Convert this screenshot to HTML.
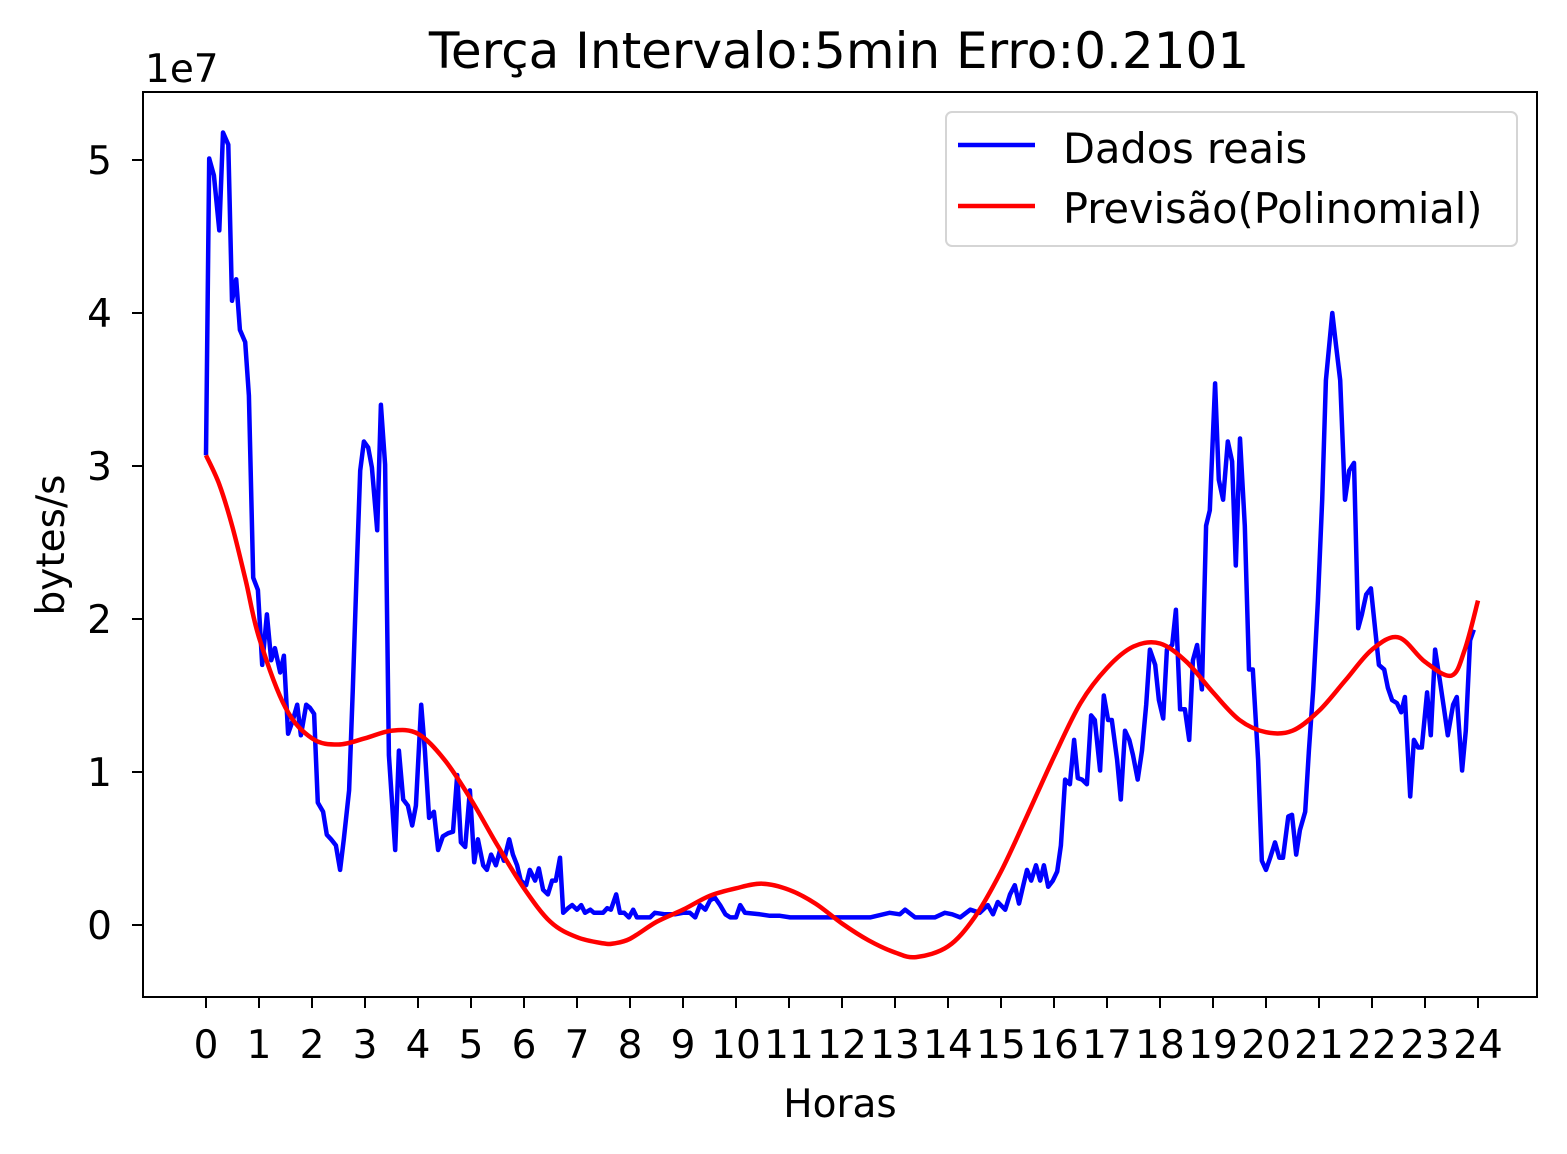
<!DOCTYPE html>
<html><head><meta charset="utf-8">
<style>
html,body{margin:0;padding:0;background:#fff;}
svg{display:block;font-family:"DejaVu Sans","Liberation Sans",sans-serif;}
</style></head>
<body>
<svg id="chart" width="1567" height="1154" viewBox="0 0 1567 1154" xmlns="http://www.w3.org/2000/svg">
<rect width="1567" height="1154" fill="#fff"/>
<text x="839" y="68" font-size="50" text-anchor="middle">Terça Intervalo:5min Erro:0.2101</text>
<text x="145" y="82" font-size="39">1e7</text>
<g id="plot"></g>
<rect x="143" y="92" width="1394" height="905" fill="none" stroke="#000" stroke-width="2"/>
<g id="xt"></g>
<g id="yt"></g>
<text x="840" y="1117" font-size="39" text-anchor="middle">Horas</text>
<text x="0" y="0" font-size="39" text-anchor="middle" transform="translate(64 545) rotate(-90)">bytes/s</text>
<g>
<rect x="946" y="112" width="571" height="134" rx="6" fill="#fff" fill-opacity="0.8" stroke="#d5d5d5" stroke-width="2"/>
<line x1="958" y1="145" x2="1035" y2="145" stroke="#00f" stroke-width="4.5"/>
<text x="1063" y="163" font-size="41.5">Dados reais</text>
<line x1="958" y1="206" x2="1035" y2="206" stroke="#f00" stroke-width="4.5"/>
<text x="1063" y="223" font-size="41.5">Previsão(Polinomial)</text>
</g>
</svg>
<script>
const xTicks=[0,1,2,3,4,5,6,7,8,9,10,11,12,13,14,15,16,17,18,19,20,21,22,23,24];
const yTicks=[0,1,2,3,4,5];
const realHours=[0,0.06,0.15,0.25,0.32,0.42,0.49,0.57,0.64,0.74,0.81,0.89,0.98,1.06,1.15,1.23,1.3,1.4,1.47,1.55,1.64,1.72,1.79,1.89,1.96,2.04,2.11,2.21,2.28,2.36,2.45,2.53,2.6,2.7,2.77,2.85,2.91,2.98,3.06,3.13,3.23,3.3,3.38,3.45,3.57,3.64,3.72,3.81,3.89,3.96,4.06,4.13,4.21,4.3,4.38,4.47,4.57,4.66,4.74,4.81,4.89,4.98,5.06,5.13,5.23,5.3,5.38,5.47,5.55,5.62,5.72,5.79,5.87,5.94,6.04,6.11,6.21,6.28,6.36,6.45,6.53,6.6,6.68,6.74,6.83,6.91,7.0,7.08,7.15,7.25,7.32,7.4,7.49,7.57,7.64,7.74,7.81,7.89,7.98,8.06,8.13,8.38,8.47,8.66,8.85,9.0,9.13,9.23,9.32,9.42,9.51,9.6,9.7,9.8,9.89,10.0,10.08,10.17,10.45,10.64,10.83,11.02,11.21,11.49,11.77,12.15,12.53,12.9,13.09,13.19,13.38,13.75,13.94,14.08,14.23,14.42,14.6,14.75,14.85,14.94,15.08,15.17,15.26,15.34,15.42,15.49,15.57,15.66,15.74,15.81,15.89,15.98,16.06,16.13,16.21,16.3,16.38,16.45,16.53,16.62,16.7,16.77,16.87,16.94,17.02,17.09,17.19,17.26,17.34,17.42,17.49,17.58,17.66,17.74,17.81,17.91,17.98,18.06,18.13,18.23,18.3,18.38,18.47,18.55,18.62,18.7,18.79,18.87,18.94,19.04,19.11,19.19,19.28,19.36,19.43,19.51,19.6,19.68,19.75,19.85,19.92,20.0,20.08,20.17,20.25,20.32,20.42,20.49,20.57,20.64,20.74,20.81,20.89,20.98,21.06,21.13,21.25,21.32,21.4,21.49,21.57,21.66,21.74,21.81,21.89,21.98,22.06,22.13,22.23,22.3,22.38,22.47,22.55,22.62,22.72,22.79,22.87,22.94,23.04,23.11,23.19,23.28,23.36,23.43,23.53,23.6,23.7,23.77,23.85,23.92,23.98];
const realValues=[3.07,5.01,4.9,4.54,5.18,5.1,4.08,4.22,3.89,3.81,3.46,2.27,2.19,1.7,2.03,1.73,1.81,1.65,1.76,1.25,1.34,1.44,1.24,1.44,1.42,1.38,0.8,0.74,0.59,0.56,0.52,0.36,0.56,0.88,1.54,2.39,2.97,3.16,3.12,2.99,2.58,3.4,3.01,1.11,0.49,1.14,0.82,0.78,0.65,0.78,1.44,1.14,0.7,0.74,0.49,0.58,0.6,0.61,0.98,0.54,0.51,0.88,0.41,0.56,0.39,0.36,0.46,0.39,0.49,0.42,0.56,0.46,0.39,0.29,0.26,0.36,0.29,0.37,0.23,0.2,0.29,0.29,0.44,0.08,0.11,0.13,0.1,0.13,0.08,0.1,0.08,0.08,0.08,0.11,0.1,0.2,0.08,0.08,0.05,0.1,0.05,0.05,0.08,0.07,0.07,0.08,0.08,0.05,0.13,0.1,0.16,0.18,0.13,0.07,0.05,0.05,0.13,0.08,0.07,0.06,0.06,0.05,0.05,0.05,0.05,0.05,0.05,0.08,0.07,0.1,0.05,0.05,0.08,0.07,0.05,0.1,0.08,0.13,0.07,0.15,0.1,0.2,0.26,0.14,0.26,0.36,0.29,0.39,0.29,0.39,0.25,0.29,0.35,0.52,0.95,0.92,1.21,0.96,0.95,0.92,1.37,1.34,1.01,1.5,1.34,1.34,1.08,0.82,1.27,1.21,1.11,0.95,1.14,1.44,1.8,1.7,1.47,1.35,1.8,1.83,2.06,1.41,1.41,1.21,1.73,1.83,1.54,2.61,2.71,3.54,2.91,2.78,3.16,3.03,2.35,3.18,2.61,1.67,1.67,1.08,0.42,0.36,0.44,0.54,0.44,0.44,0.71,0.72,0.46,0.62,0.74,1.14,1.54,2.12,2.78,3.56,4.0,3.79,3.56,2.78,2.97,3.02,1.94,2.03,2.16,2.2,1.93,1.7,1.67,1.55,1.47,1.45,1.39,1.49,0.84,1.21,1.16,1.16,1.52,1.24,1.8,1.6,1.41,1.24,1.44,1.49,1.01,1.27,1.86,1.93];
const predHours=[0,0.25,0.5,0.75,1,1.5,2,2.5,3,3.5,4,4.5,5,5.5,6,6.5,7,7.5,7.7,8,8.5,9,9.5,10,10.5,11,11.5,12,12.5,13,13.4,14,14.5,15,15.5,16,16.5,17,17.5,18,18.5,19,19.5,20,20.5,21,21.5,22,22.5,23,23.5,23.75,24];
const predValues=[3.07,2.88,2.6,2.25,1.88,1.42,1.22,1.18,1.22,1.27,1.25,1.08,0.82,0.52,0.24,0.02,-0.08,-0.12,-0.12,-0.09,0.02,0.1,0.19,0.24,0.27,0.23,0.14,0.01,-0.1,-0.18,-0.21,-0.14,0.05,0.35,0.72,1.1,1.45,1.68,1.82,1.84,1.72,1.52,1.34,1.26,1.27,1.4,1.6,1.8,1.88,1.72,1.63,1.8,2.12];
const NS='http://www.w3.org/2000/svg';
const xs=h=>206+h*53;
const ys=v=>925-v*153;
function mk(t,a){const e=document.createElementNS(NS,t);for(const k in a)e.setAttribute(k,a[k]);return e;}
const plot=document.getElementById('plot');
function addPath(d,color,name){
  const p=mk('path',{d:d,fill:'none',stroke:color,'stroke-width':4.5,'stroke-linejoin':'round'});
  
  
  plot.appendChild(p);
}
function linePath(hs,vs){return hs.map((h,i)=>(i?'L':'M')+xs(h).toFixed(1)+','+ys(vs[i]).toFixed(1)).join(' ');}
function smoothPath(hs,vs){
  const P=hs.map((h,i)=>[xs(h),ys(vs[i])]);
  let d='M'+P[0][0].toFixed(1)+','+P[0][1].toFixed(1);
  for(let i=0;i<P.length-1;i++){
    const p0=P[Math.max(0,i-1)],p1=P[i],p2=P[i+1],p3=P[Math.min(P.length-1,i+2)];
    const c1=[p1[0]+(p2[0]-p0[0])/6,p1[1]+(p2[1]-p0[1])/6];
    const c2=[p2[0]-(p3[0]-p1[0])/6,p2[1]-(p3[1]-p1[1])/6];
    d+=' C'+c1.map(v=>v.toFixed(1)).join(',')+' '+c2.map(v=>v.toFixed(1)).join(',')+' '+p2.map(v=>v.toFixed(1)).join(',');
  }
  return d;
}
addPath(linePath(realHours,realValues),'#00f','real-data-line');
addPath(smoothPath(predHours,predValues),'#f00','prediction-line');
const xt=document.getElementById('xt');
xTicks.forEach(t=>{
  const l=mk('line',{x1:xs(t),x2:xs(t),y1:997,y2:1008,stroke:'#000','stroke-width':2});
  
  
  xt.appendChild(l);
  const tx=mk('text',{x:xs(t),y:1058,'font-size':39,'text-anchor':'middle'});
  
  
  tx.textContent=t;xt.appendChild(tx);
});
const yt=document.getElementById('yt');
yTicks.forEach(t=>{
  const l=mk('line',{x1:132,x2:143,y1:ys(t),y2:ys(t),stroke:'#000','stroke-width':2});
  
  
  yt.appendChild(l);
  const tx=mk('text',{x:112,y:ys(t)+14,'font-size':39,'text-anchor':'end'});
  
  
  tx.textContent=t;yt.appendChild(tx);
});
</script>
</body></html>
